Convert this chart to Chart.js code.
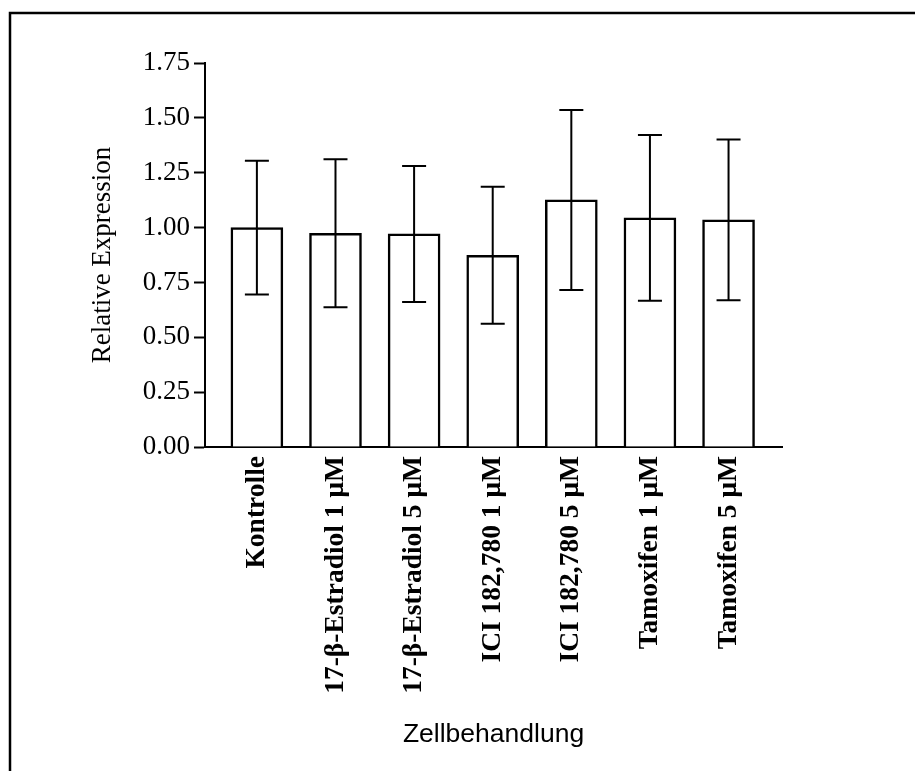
<!DOCTYPE html>
<html>
<head>
<meta charset="utf-8">
<script src="https://cdn.jsdelivr.net/npm/chart.js@4/dist/chart.umd.min.js"></script>
<style>
  html, body { margin: 0; padding: 0; background: #fff; }
  #wrap { width: 915px; height: 771px; }
</style>
</head>
<body>
<div id="wrap"><canvas id="c" width="915" height="771"></canvas></div>
<script>
const categories = ['Kontrolle', '17-β-Estradiol 1 μM', '17-β-Estradiol 5 μM', 'ICI 182,780 1 μM', 'ICI 182,780 5 μM', 'Tamoxifen 1 μM', 'Tamoxifen 5 μM'];
const means = [1.00, 0.974, 0.971, 0.874, 1.126, 1.044, 1.035];
const errors = [0.305, 0.337, 0.310, 0.312, 0.410, 0.378, 0.366];
const yTicks = [0, 0.25, 0.5, 0.75, 1.0, 1.25, 1.5, 1.75];

const serif = "'Liberation Serif', 'Times New Roman', serif";
const sans = "'Liberation Sans', Arial, sans-serif";

const framePlugin = {
  id: 'frame',
  beforeDraw(chart) {
    const ctx = chart.ctx;
    ctx.save();
    ctx.fillStyle = '#fff';
    ctx.fillRect(0, 0, chart.width, chart.height);
    ctx.strokeStyle = '#000';
    ctx.lineWidth = 2.5;
    ctx.strokeRect(10, 13, 2000, 2000);
    ctx.restore();
  }
};

const errorPlugin = {
  id: 'errorbars',
  afterDatasetsDraw(chart) {
    const ctx = chart.ctx;
    const xs = chart.scales.x, ys = chart.scales.y;
    ctx.save();
    ctx.strokeStyle = '#000';
    ctx.lineWidth = 2;
    means.forEach((m, i) => {
      const x = xs.getPixelForValue(i);
      const yt = ys.getPixelForValue(m + errors[i]);
      const yb = ys.getPixelForValue(m - errors[i]);
      const cap = 12;
      ctx.beginPath();
      ctx.moveTo(x, yt); ctx.lineTo(x, yb);
      ctx.moveTo(x - cap, yt); ctx.lineTo(x + cap, yt);
      ctx.moveTo(x - cap, yb); ctx.lineTo(x + cap, yb);
      ctx.stroke();
    });
    ctx.restore();
  }
};

new Chart(document.getElementById('c'), {
  type: 'bar',
  data: {
    datasets: [{
      data: means.map((v, i) => ({ x: i, y: v })),
      backgroundColor: '#fff',
      borderColor: '#000',
      borderWidth: 2.5,
      barThickness: 52
    }]
  },
  options: {
    responsive: false,
    animation: false,
    events: [],
    layout: { padding: { left: 87, top: 63, right: 133, bottom: 0 } },
    plugins: { legend: { display: false }, tooltip: { enabled: false } },
    scales: {
      x: {
        type: 'linear',
        min: -0.66,
        max: 6.68,
        offset: false,
        afterBuildTicks(scale) { scale.ticks = categories.map((_, i) => ({ value: i })); },
        afterFit(scale) { scale.height = 324; },
        grid: { display: false, drawTicks: false },
        border: { display: true, color: '#000', width: 2 },
        ticks: {
          autoSkip: false,
          minRotation: 90,
          maxRotation: 90,
          padding: 9,
          color: '#000',
          font: { family: serif, size: 27.5, weight: 'bold' },
          callback: (v) => categories[v]
        },
        title: {
          display: true,
          text: 'Zellbehandlung',
          color: '#000',
          font: { family: sans, size: 26.5 },
          padding: { top: 0, bottom: 20 }
        }
      },
      y: {
        min: 0,
        max: 1.75,
        afterBuildTicks(scale) { scale.ticks = yTicks.map(v => ({ value: v })); },
        afterFit(scale) { scale.width = 118; },
        grid: { drawOnChartArea: false, drawTicks: true, tickLength: 11, tickColor: '#000', tickWidth: 2 },
        border: { display: true, color: '#000', width: 2 },
        ticks: {
          padding: 4,
          color: '#000',
          font: { family: serif, size: 27 },
          callback: (v) => Number(v).toFixed(2)
        },
        title: {
          display: true,
          text: 'Relative Expression',
          color: '#000',
          font: { family: serif, size: 27 },
          padding: { top: 0, bottom: 0 }
        }
      }
    }
  },
  plugins: [framePlugin, errorPlugin]
});
</script>
</body>
</html>
